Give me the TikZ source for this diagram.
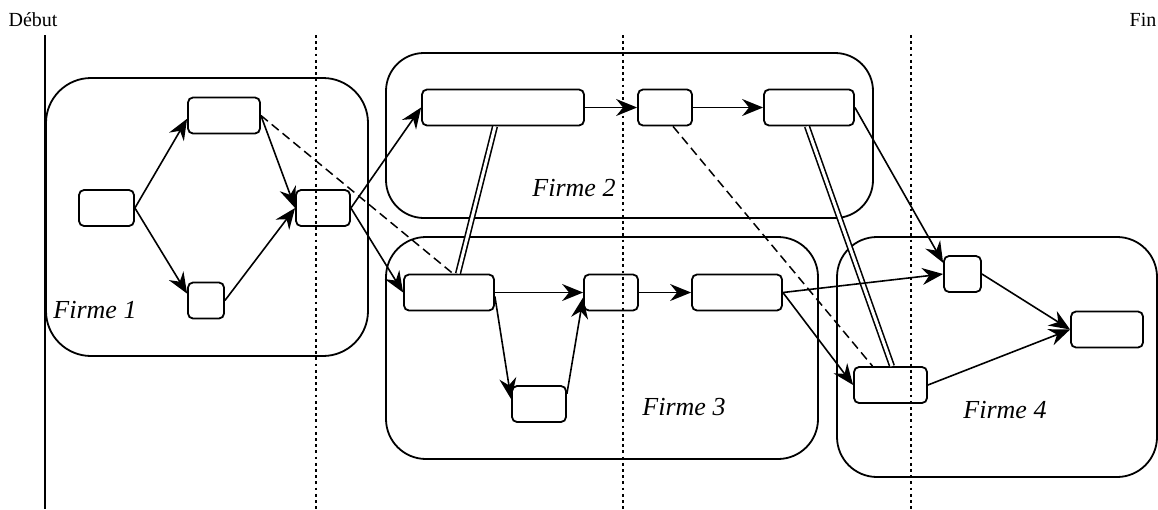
\documentclass[tikz,border=0pt]{standalone}
\usepackage{fontspec}
\setmainfont{Liberation Serif}
\usetikzlibrary{arrows.meta}
\begin{document}
\begin{tikzpicture}[x=1pt,y=-1pt,
  box/.style={draw,line width=1.8pt,rounded corners=5pt,inner sep=0pt,minimum height=36pt},
  firm/.style={draw,line width=1.8pt},
  flow/.style={line width=1.6pt,-{Stealth[length=21pt,width=17pt,inset=7pt]}},
  link/.style={line width=1.6pt,double,double distance=3pt},
  dashlink/.style={line width=1.5pt,dash pattern=on 9pt off 5pt},
  sep/.style={line width=2.8pt,dash pattern=on 2.8pt off 3.4pt},
  lab/.style={font=\fontsize{26}{30}\selectfont\itshape,inner sep=0pt},
  top/.style={font=\fontsize{20}{24}\selectfont,inner sep=0pt}]
\useasboundingbox (0,0) rectangle (1158,509);
% firms
\draw[firm,rounded corners=45pt] (46,78) rectangle (368,356);
\draw[firm,rounded corners=38pt] (386,53) rectangle (873,218);
\draw[firm,rounded corners=40pt] (386,237) rectangle (818,459);
\draw[firm,rounded corners=40pt] (837,237) rectangle (1157,477);
% time lines
\coordinate (t0a) at (45,35); \coordinate (t0b) at (45,509);
\draw[line width=2.8pt] (t0a) -- (t0b);
\coordinate (s1a) at (316,35); \coordinate (s1b) at (316,509);
\coordinate (s2a) at (623,35); \coordinate (s2b) at (623,509);
\coordinate (s3a) at (911,35); \coordinate (s3b) at (911,509);
\draw[sep] (s1a) -- (s1b);
\draw[sep] (s2a) -- (s2b);
\draw[sep] (s3a) -- (s3b);
\node[top] (debut) at (33,20) {Début};
\node[top] (fin) at (1143,20) {Fin};
% labels
\node[lab] (l1) at (95,310) {Firme 1};
\node[lab] (l2) at (574,188) {Firme 2};
\node[lab] (l3) at (684,407) {Firme 3};
\node[lab] (l4) at (1005,410) {Firme 4};
% nodes
\node[box,minimum width=55pt] (A) at (106.5,208) {};
\node[box,minimum width=72pt] (B) at (224,115.5) {};
\node[box,minimum width=36pt] (C) at (206,300.5) {};
\node[box,minimum width=54pt] (D) at (323,208) {};
\node[box,minimum width=162pt] (E1) at (503,107.5) {};
\node[box,minimum width=54pt] (E2) at (665,107.5) {};
\node[box,minimum width=90pt] (E3) at (809,107.5) {};
\node[box,minimum width=90pt] (G1) at (449,292.5) {};
\node[box,minimum width=54pt] (G2) at (611,292.5) {};
\node[box,minimum width=90pt] (G3) at (737,292.5) {};
\node[box,minimum width=54pt] (G4) at (539,404) {};
\node[box,minimum width=37pt] (H1) at (962.5,274) {};
\node[box,minimum width=72pt] (H2) at (1107,329.5) {};
\node[box,minimum width=73pt] (H3) at (890.5,385) {};
% links
\draw[dashlink] (B.east) -- ([xshift=4pt]G1.north);
\draw[dashlink] ([xshift=8pt]E2.south) -- ([xshift=-18pt]H3.north);
\draw[link] ([xshift=-8pt]E1.south) -- ([xshift=9pt]G1.north);
\draw[link] ([xshift=-2pt]E3.south) -- ([xshift=1.5pt]H3.north);
% flows
\draw[flow] (A.east) -- (B.185);
\draw[flow] (A.east) -- (C.160);
\draw[flow] (B.east) -- (D.west);
\draw[flow] (C.east) -- (D.west);
\draw[flow] (D.east) -- (E1.west);
\draw[flow] (D.east) -- (G1.west);
\draw[flow] (E1.east) -- (E2.west);
\draw[flow] (E2.east) -- (E3.west);
\draw[flow] (G1.east) -- (G2.west);
\draw[flow] (G2.east) -- (G3.west);
\draw[flow] (G1.-5) -- (G4.170);
\draw[flow] (G4.20) -- (G2.190);
\draw[flow] (E3.east) -- (H1.150);
\draw[flow] (G3.east) -- (H1.west);
\draw[flow] (G3.east) -- (H3.west);
\draw[flow] (H1.east) -- (H2.west);
\draw[flow] (H3.east) -- (H2.west);
\end{tikzpicture}
\end{document}
